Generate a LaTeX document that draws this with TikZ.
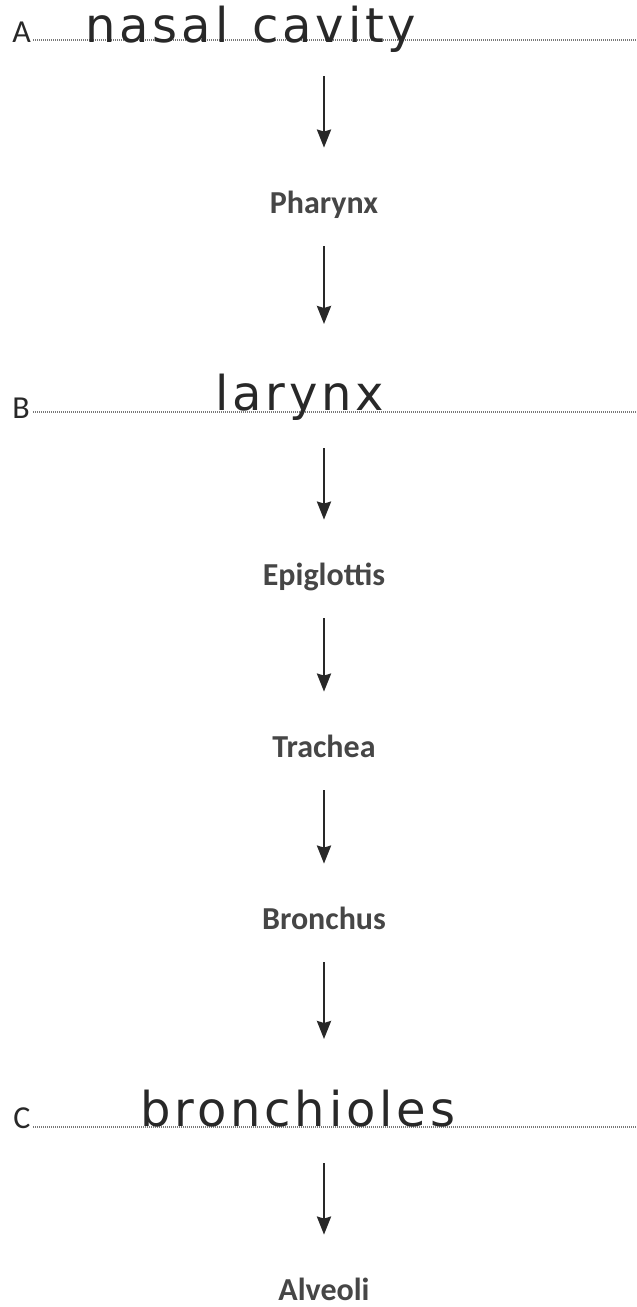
\documentclass[tikz,border=0pt]{standalone}
\usepackage{fontspec}
\setmainfont{Carlito}
\newfontfamily\handfont[LetterSpace=8]{DejaVu Sans}
\usetikzlibrary{arrows.meta, calc}
\definecolor{inkgrey}{RGB}{40,40,40}
\definecolor{printgrey}{RGB}{70,70,70}
\definecolor{dotgrey}{RGB}{120,120,120}

\begin{document}
\begin{tikzpicture}[
    x=0.5pt, y=-0.5pt,
    organ/.style={inner sep=0pt, text height=11pt, text depth=3pt, anchor=base, text=printgrey, font=\bfseries\fontsize{16}{18}\selectfont},
    letter/.style={inner sep=0pt, anchor=base west, text=inkgrey, font=\fontsize{16}{18}\selectfont},
    answer/.style={inner sep=0pt, anchor=base west, text=inkgrey, font=\handfont\fontsize{24}{26}\selectfont},
    rule/.style={draw=dotgrey, line width=0.8pt, dash pattern=on 0.5pt off 0.5pt},
    flow/.style={draw=inkgrey, line width=1.3pt, -{Stealth[length=9pt, width=7pt, inset=1pt]}, shorten <=13.5pt, shorten >=21.5pt},
    fromrow/.style={shorten <=18pt},
    torow/.style={shorten >=44pt}
]
    \useasboundingbox (0,0) rectangle (637,1307);

    % the three answer lines
    \node[letter] (labA) at (12,42) {A};
    \node[letter] (labB) at (12,418) {B};
    \node[letter] (labC) at (13,1128) {C};
    \coordinate (rowA) at (33,40);
    \coordinate (rowB) at (33,412);
    \coordinate (rowC) at (33,1127);
    \draw[rule] (rowA) -- ++(604,0);
    \draw[rule] (rowB) -- ++(604,0);
    \draw[rule] (rowC) -- ++(604,0);

    % written answers
    \node[answer] (nasal) at (85,42) {nasal\hspace{12pt}cavity};
    \node[answer] (larynx) at (215,410) {larynx};
    \node[answer] (bronchioles) at (140,1126) {bronchioles};

    % printed stages
    \node[organ] (pharynx) at (324,213) {Pharynx};
    \node[organ] (epiglottis) at (324,585) {Epiglottis};
    \node[organ] (trachea) at (324,757) {Trachea};
    \node[organ] (bronchus) at (324,929) {Bronchus};
    \node[organ, text depth=0pt] (alveoli) at (324,1300) {Alveoli};

    % arrows
    \draw[flow, fromrow] (pharynx |- rowA) -- (pharynx);
    \draw[flow, torow] (pharynx) -- (pharynx |- rowB);
    \draw[flow, fromrow] (epiglottis |- rowB) -- (epiglottis);
    \draw[flow] (epiglottis) -- (trachea);
    \draw[flow] (trachea) -- (bronchus);
    \draw[flow, torow] (bronchus) -- (bronchus |- rowC);
    \draw[flow, fromrow] (alveoli |- rowC) -- (alveoli);

\end{tikzpicture}
\end{document}
